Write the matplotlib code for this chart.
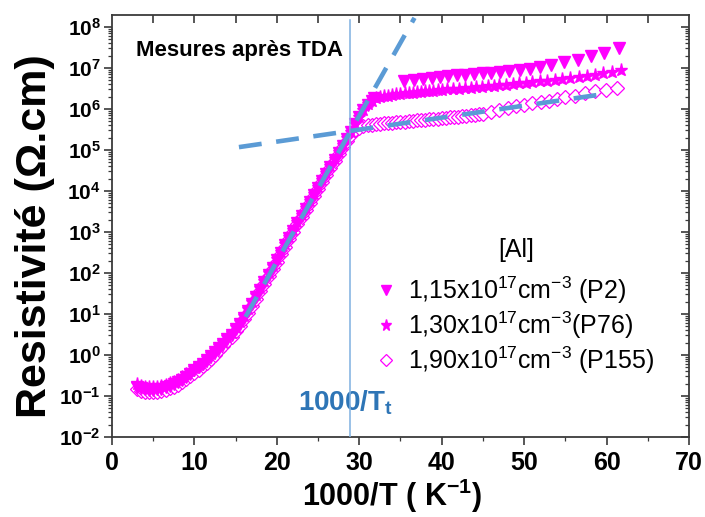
import numpy as np
import matplotlib
matplotlib.use("Agg")
import matplotlib.pyplot as plt
from matplotlib.ticker import FixedLocator, NullFormatter, LogLocator, FixedFormatter

plt.rcParams['font.family'] = ['Liberation Sans', 'DejaVu Sans']
plt.rcParams['mathtext.fontset'] = 'custom'
plt.rcParams['mathtext.rm'] = 'Liberation Sans'
plt.rcParams['mathtext.bf'] = 'Liberation Sans:bold'
plt.rcParams['mathtext.default'] = 'rm'

# ---------------- data ----------------
# common low-temperature branch (1000/T in K^-1)
x_low = [3.0, 3.5, 4.0, 4.5, 5.0, 5.5, 6.0, 6.5, 7.0, 7.5, 8.0, 8.5, 9.0, 9.5,
         10.0, 10.5, 11.0, 11.5, 12.0, 12.5, 13.0, 13.5, 14.0, 14.5, 15.0, 15.5,
         16.0, 16.5, 17.0, 17.5, 18.0, 18.5, 19.0, 19.5, 20.0, 20.5, 21.0, 21.5,
         22.0, 22.5, 23.0, 23.5, 24.0, 24.5, 25.0, 25.5, 26.0, 26.5, 27.0, 27.5,
         28.0, 28.5, 29.0]

# P2 : 1,15e17 cm-3
p2_x = x_low + [29.5, 30.0, 30.5, 31.0, 31.5, 31.8,
                35.4, 36.6, 37.7, 38.8, 39.8, 40.8, 41.8, 42.8, 43.9, 45.0, 46.0,
                47.1, 48.2, 49.5, 50.7, 51.9, 53.3, 54.8, 56.5, 58.1, 59.7, 61.5]
p2_rho = [0.17, 0.155, 0.148, 0.143, 0.142, 0.146, 0.152, 0.163, 0.178, 0.196,
          0.22, 0.25, 0.295, 0.35, 0.42, 0.51, 0.61, 0.75, 0.93, 1.17, 1.47,
          1.85, 2.4, 3.1, 4.2, 5.8, 8.2, 11.8, 17.5, 26, 39, 59, 89, 135, 205,
          310, 470, 710, 1080, 1630, 2460, 3700, 5500, 8100, 12000, 17800,
          26300, 39000, 57500, 85000, 126000, 186000, 270000,
          420000, 640000, 950000, 1.28e6, 1.6e6, 1.86e6,
          4.7e6, 5.2e6, 5.5e6, 5.8e6, 6.1e6, 6.3e6, 6.6e6, 6.9e6, 7.2e6, 7.5e6,
          7.7e6, 8.1e6, 8.5e6, 9.0e6, 9.6e6, 1.06e7, 1.2e7, 1.38e7, 1.6e7,
          1.9e7, 2.3e7, 3.0e7]

# P76 : 1,30e17 cm-3
p76_x = x_low + [29.5, 30.0, 30.5, 31.0, 31.5, 32.0, 32.5, 33.0, 33.5, 34.0,
                 34.5, 35.0, 35.5, 36.0, 36.5, 37.0, 37.5, 38.0, 38.5, 39.0,
                 39.5, 40.0, 40.7, 41.4, 42.1, 42.8, 43.5, 44.2, 44.9, 45.6,
                 46.3, 47.0, 47.8, 48.6, 49.4, 50.2, 51.0, 51.9, 52.8, 53.7,
                 54.6, 55.6, 56.6, 57.6, 58.6, 59.6, 60.7, 61.8]
p76_rho = [0.2, 0.18, 0.17, 0.165, 0.163, 0.166, 0.174, 0.187, 0.203, 0.225,
           0.252, 0.29, 0.34, 0.4, 0.47, 0.57, 0.69, 0.85, 1.05, 1.3, 1.65,
           2.1, 2.7, 3.5, 4.7, 6.4, 9.1, 13.2, 19.5, 29, 43, 65, 97, 146,
           220, 332, 500, 750, 1140, 1720, 2600, 3900, 5800, 8600, 12700, 18700,
           27500, 40500, 60000, 88000, 131000, 193000, 280000,
           4.2e5, 6.3e5, 9.5e5, 1.3e6, 1.6e6, 1.8e6, 1.95e6, 2.04e6, 2.12e6,
           2.2e6, 2.27e6, 2.33e6, 2.39e6, 2.45e6, 2.5e6, 2.55e6, 2.6e6, 2.66e6,
           2.72e6, 2.78e6, 2.84e6, 2.9e6, 2.98e6, 3.06e6, 3.14e6, 3.22e6,
           3.3e6, 3.38e6, 3.46e6, 3.55e6, 3.65e6, 3.75e6, 3.88e6, 4.02e6,
           4.17e6, 4.33e6, 4.5e6, 4.7e6, 4.92e6, 5.15e6, 5.4e6, 5.7e6, 6.0e6,
           6.4e6, 6.85e6, 7.35e6, 8.0e6, 8.8e6]

# P155 : 1,90e17 cm-3
p155_x = x_low + [29.5, 30.0, 30.5, 31.0, 31.5, 32.0, 32.5, 33.0, 33.5, 34.0,
                  34.5, 35.0, 35.5, 36.0, 36.5, 37.0, 37.5, 38.0, 38.5, 39.0,
                  39.5, 40.0, 40.5, 41.0, 41.5, 42.0, 42.5, 43.0, 43.5, 44.0,
                  44.5, 45.0, 46.0, 47.0, 48.0, 49.0, 50.0, 51.0, 52.0, 53.0,
                  54.0, 55.0, 56.2, 57.4, 58.6, 59.9, 61.3]
p155_rho = [0.15, 0.135, 0.128, 0.124, 0.123, 0.126, 0.132, 0.141, 0.153, 0.169,
            0.19, 0.218, 0.255, 0.3, 0.36, 0.435, 0.53, 0.65, 0.81, 1.02, 1.3,
            1.66, 2.15, 2.8, 3.75, 5.2, 7.4, 10.6, 15.7, 23.5, 35.5, 54, 82, 124,
            190, 288, 440, 665, 1010, 1530, 2320, 3500, 5200, 7700, 11300,
            16700, 24600, 36500, 53500, 79000, 117000, 168000, 235000,
            300000, 345000, 375000, 395000, 410000, 422000, 432000, 442000,
            452000, 462000, 472000, 482000, 492000, 502000, 512000, 523000,
            534000, 545000, 557000, 569000, 582000, 595000, 608000, 622000,
            636000, 651000, 667000, 684000, 702000, 721000, 741000, 762000,
            830000, 930000, 1.04e6, 1.16e6, 1.27e6, 1.37e6, 1.47e6, 1.6e6,
            1.74e6, 1.9e6, 2.12e6, 2.38e6, 2.66e6, 2.95e6, 3.3e6]

labels = [r'1,15x10$^{17}$cm$^{-3}$ (P2)',
          r'1,30x10$^{17}$cm$^{-3}$(P76)',
          r'1,90x10$^{17}$cm$^{-3}$ (P155)']

# linear fits (dashed) and transition
fit_steep_x = [16.2, 36.7]
fit_steep_rho = [8.5, 1.66e8]
fit_flat_x = [15.4, 59.9]
fit_flat_rho = [1.17e5, 2.34e6]
x_transition = 28.9

xticks = [0, 10, 20, 30, 40, 50, 60, 70]
yexp = list(range(-2, 9))

# ---------------- figure ----------------
W, H = 705, 517
fig = plt.figure(figsize=(W / 100, H / 100), dpi=100)
ax = fig.add_axes([112 / W, 1 - 437 / H, (689 - 112) / W, (437 - 15) / H])

mag = '#ff00ff'
ax.plot(p2_x, p2_rho, linestyle='none', marker='v', ms=9, color=mag,
        mec=mag, label=labels[0], zorder=3)
ax.plot(p76_x, p76_rho, linestyle='none', marker='*', ms=9.5, color=mag,
        mec=mag, label=labels[1], zorder=3)
ax.plot(p155_x, p155_rho, linestyle='none', marker='D', ms=6.8, mfc='white',
        mec=mag, mew=0.9, label=labels[2], zorder=2)

blue = '#5b9bd5'
ax.plot(fit_steep_x, fit_steep_rho, color=blue, lw=3.3, dashes=(5, 3.2),
        zorder=5)
ax.plot(fit_flat_x, fit_flat_rho, color=blue, lw=3.3, dashes=(5, 3.2),
        zorder=5)
ax.plot([x_transition, x_transition], [1e-2, 10 ** 8.17], color='#7fb0e0',
        lw=1.1, zorder=4)

ax.set_yscale('log')
ax.set_xlim(0, 70)
ax.set_ylim(1e-2, 10 ** 8.29)

ax.xaxis.set_major_locator(FixedLocator(xticks))
ax.xaxis.set_minor_locator(FixedLocator([5, 15, 25, 35, 45, 55, 65]))
ax.yaxis.set_major_locator(FixedLocator([10.0 ** e for e in yexp]))
ax.yaxis.set_major_formatter(FixedFormatter([r'$\mathbf{10^{%d}}$' % e for e in yexp]))
ax.yaxis.set_minor_locator(LogLocator(base=10, subs=np.arange(2, 10), numticks=20))
ax.yaxis.set_minor_formatter(NullFormatter())

spine_c = '#3a3a3a'
for s in ax.spines.values():
    s.set_color(spine_c)
    s.set_linewidth(1.3)
ax.tick_params(axis='both', which='both', direction='out', colors=spine_c,
               top=False, right=False, labelcolor='black')
ax.tick_params(axis='both', which='major', length=6, width=1.2)
ax.tick_params(axis='both', which='minor', length=3.2, width=0.9)
ax.tick_params(axis='x', which='major', labelsize=18, pad=4)
ax.tick_params(axis='y', which='major', labelsize=15, pad=2)
for lab in ax.get_xticklabels():
    lab.set_fontweight('bold')

# mirrored inward ticks on top / right
axr = ax.twinx()
axr.set_yscale('log')
axr.set_ylim(ax.get_ylim())
axr.yaxis.set_major_locator(FixedLocator([10.0 ** e for e in yexp]))
axr.yaxis.set_minor_locator(LogLocator(base=10, subs=np.arange(2, 10), numticks=20))
axr.tick_params(axis='y', which='both', direction='in', colors=spine_c,
                labelright=False)
axr.tick_params(axis='y', which='major', length=6, width=1.2)
axr.tick_params(axis='y', which='minor', length=3.2, width=0.9)
axt = ax.twiny()
axt.set_xlim(ax.get_xlim())
axt.xaxis.set_major_locator(FixedLocator(list(range(5, 70, 5))))
axt.tick_params(axis='x', which='major', direction='in', length=6, width=1.2,
                colors=spine_c, labeltop=False)
for a in (axr, axt):
    for s in a.spines.values():
        s.set_visible(False)

fig.text(392 / W, 1 - 496 / H, r'1000/T ( K$^{\mathbf{-1}}$)', fontsize=22,
         fontweight='bold', ha='center', va='center')
fig.text(35 / W, 1 - 236 / H, 'Resistivité (Ω.cm)', fontsize=31,
         fontweight='bold', ha='center', va='center', rotation=90)

ax.text(0.042, 0.917, 'Mesures après TDA', transform=ax.transAxes,
        fontsize=16, fontweight='bold', ha='left', va='center')
ax.text(0.405, 0.082, r'1000/T$_{\mathbf{t}}$', transform=ax.transAxes,
        fontsize=20, fontweight='bold', color='#2e75b6', ha='center',
        va='center')

leg = ax.legend(loc='upper left', bbox_to_anchor=(0.44, 0.502), frameon=False,
                title='[Al]', fontsize=18, title_fontsize=18, handlelength=0.6,
                handletextpad=0.6, labelspacing=0.15, borderpad=0,
                markerscale=0.85)
leg._legend_box.align = 'center'
leg._legend_box.sep = 9

fig.savefig('out.png', dpi=100)
